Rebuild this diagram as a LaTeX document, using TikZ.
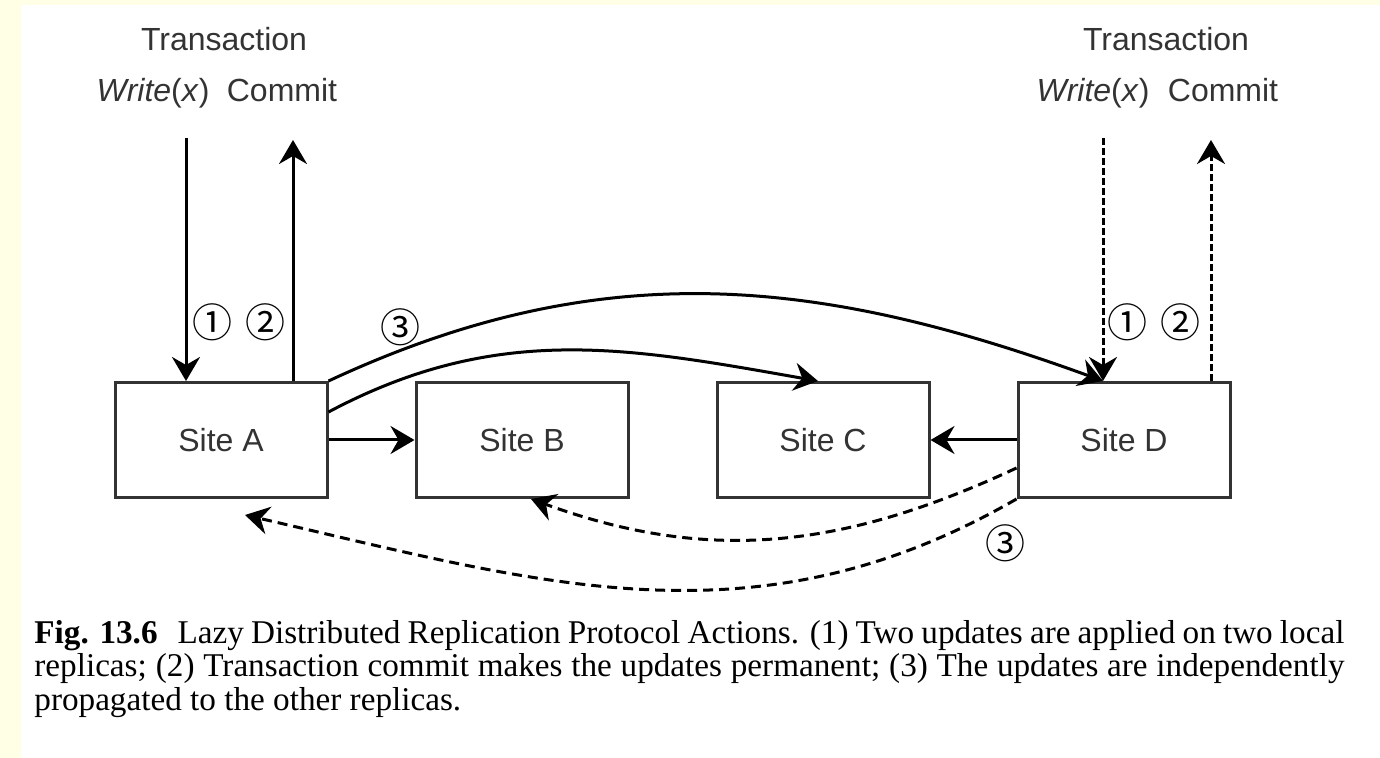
\documentclass[tikz,border=0pt]{standalone}
\usepackage{fontspec}
\setmainfont{Liberation Serif}
\setsansfont{Liberation Sans}
\newfontfamily\circfont{Noto Sans CJK JP}
\usepackage{xcolor}
\usetikzlibrary{positioning, arrows.meta}
\definecolor{pagebg}{HTML}{FFFFE6}
\definecolor{inkgray}{HTML}{333333}

\begin{document}
\begin{tikzpicture}[
            x=0.5pt, y=-0.5pt,
            node distance=43pt,
            site/.style={draw=inkgray, line width=1.5pt, minimum width=106pt, minimum height=57.5pt,
                inner sep=0pt, text=inkgray, font=\sffamily\fontsize{16}{19}\selectfont},
            lbl/.style={anchor=base, inner sep=0pt, text=inkgray, font=\sffamily\fontsize{16}{19}\selectfont},
            num/.style={inner sep=0pt, font=\circfont\fontsize{20}{23}\selectfont},
            flow/.style={line width=1.5pt, -{Stealth[length=12pt, width=14pt, inset=4pt]}},
            lazy/.style={flow, dash pattern=on 5pt off 3pt},
            lazyup/.style={flow, dash pattern=on 3.5pt off 1.5pt},
        ]
            \useasboundingbox[fill=pagebg] (0,0) rectangle (1380,758);
            \fill[white] (21,5) rectangle (1380,758);

            % the four sites
            \node[site] (A) at (221,440) {Site A};
            \node[site, right=of A] (B) {Site B};
            \node[site, right=of B] (C) {Site C};
            \node[site, right=of C] (D) {Site D};

            % transaction at site A
            \node[lbl] (tA) at (224,51) {Transaction};
            \node[lbl] (wxA) at (153,102) {\textit{Write}(\textit{x})};
            \node[lbl] (cmA) at (282,102) {Commit};
            \coordinate (wA) at (186,138);
            \coordinate (cA) at (293,140);
            \draw[flow] (wA) -- (wA |- A.north);
            \draw[flow] (cA |- A.north) -- (cA);
            \node[num] (n1A) at (212,322) {①};
            \node[num] (n2A) at (265,322) {②};

            % transaction at site D
            \node[lbl] (tD) at (1166,51) {Transaction};
            \node[lbl] (wxD) at (1093,102) {\textit{Write}(\textit{x})};
            \node[lbl] (cmD) at (1223,102) {Commit};
            \coordinate (wD) at (1103,138);
            \coordinate (cD) at (1211,140);
            \draw[lazyup] (wD) -- (wD |- D.north);
            \draw[lazyup] (cD |- D.north) -- (cD);
            \node[num] (n1D) at (1127,322) {①};
            \node[num] (n2D) at (1180,322) {②};

            % propagation from A
            \draw[flow] (A.east) -- (B.west);
            \draw[flow] ([yshift=14pt]A.east) to[out=28, in=170] ([xshift=-2.5pt]C.north);
            \draw[flow] (A.north east) to[out=25, in=160] (wD |- D.north);
            \node[num] (n3A) at (400,327) {③};

            % propagation from D
            \draw[flow] (D.west) -- (C.east);
            \draw[lazy] ([yshift=-14pt]D.west) to[out=205, in=-20] ([xshift=4.5pt]B.south);
            \draw[lazy] (D.south west) to[out=210, in=-13] ([xshift=12pt, yshift=-8pt]A.south);
            \node[num] (n3D) at (1005,543) {③};

            % caption
            \node[anchor=base west, text width=655pt, align=justify, inner sep=0pt,
                font=\fontsize{16.6}{16.75}\selectfont] (cap) at (34,643)
                {\hyphenpenalty=10000\exhyphenpenalty=10000
                \textbf{Fig. 13.6}\hspace{0.6em}Lazy Distributed Replication Protocol Actions. (1) Two updates are applied on two local replicas; (2) Transaction commit makes the updates permanent; (3) The updates are independently propagated to the other replicas.};
        \end{tikzpicture}
\end{document}
